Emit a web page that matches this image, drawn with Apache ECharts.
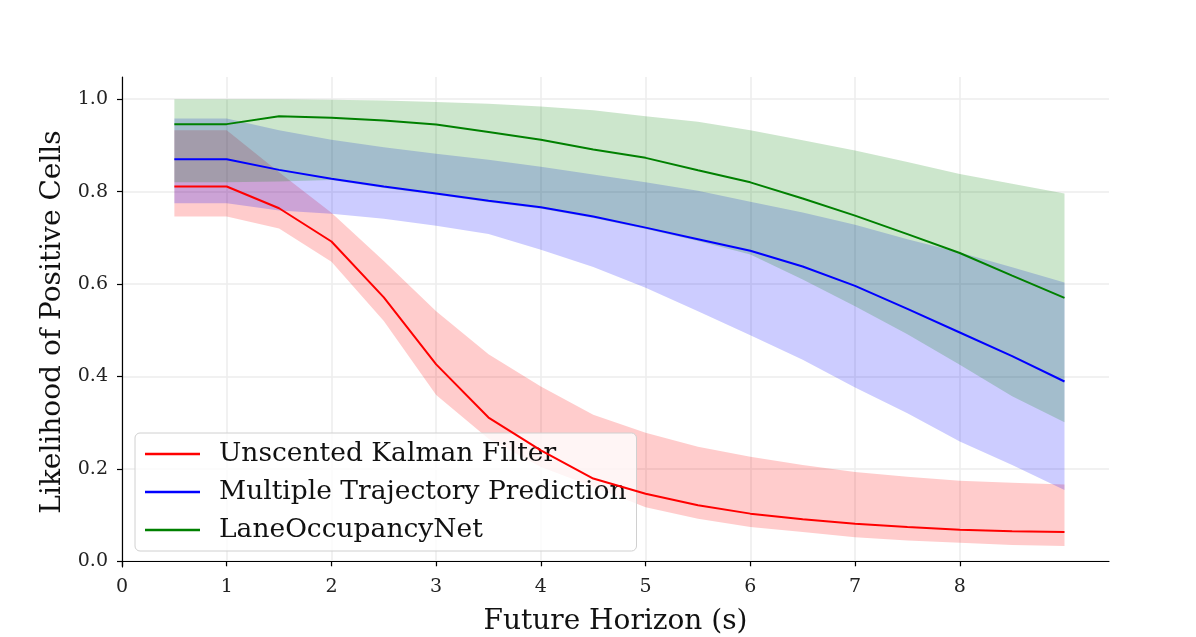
<!DOCTYPE html>
<html>
<head>
<meta charset="utf-8">
<script src="https://cdn.jsdelivr.net/npm/echarts@6/dist/echarts.min.js"></script>
<style>
  html, body { margin: 0; padding: 0; background: #fff; }
  #chart { width: 1196px; height: 637px; }
</style>
</head>
<body>
<div id="chart"></div>
<script>
// future horizon (s)
var horizon = [0.5, 1, 1.5, 2, 2.5, 3, 3.5, 4, 4.5, 5, 5.5, 6, 6.5, 7, 7.5, 8, 8.5, 9];

// Unscented Kalman Filter
var ukfMean  = [0.811, 0.811, 0.764, 0.692, 0.571, 0.426, 0.311, 0.240, 0.179, 0.146, 0.121, 0.103, 0.091, 0.081, 0.074, 0.068, 0.065, 0.063];
var ukfUpper = [0.933, 0.933, 0.842, 0.754, 0.650, 0.541, 0.448, 0.378, 0.317, 0.278, 0.248, 0.226, 0.208, 0.193, 0.183, 0.174, 0.170, 0.166];
var ukfLower = [0.746, 0.746, 0.720, 0.648, 0.520, 0.360, 0.265, 0.204, 0.161, 0.117, 0.092, 0.074, 0.063, 0.052, 0.045, 0.040, 0.035, 0.033];

// Multiple Trajectory Prediction
var mtpMean  = [0.870, 0.870, 0.847, 0.828, 0.811, 0.796, 0.780, 0.766, 0.746, 0.722, 0.697, 0.672, 0.638, 0.596, 0.546, 0.495, 0.444, 0.389];
var mtpUpper = [0.958, 0.958, 0.933, 0.912, 0.896, 0.882, 0.869, 0.854, 0.837, 0.820, 0.802, 0.778, 0.755, 0.728, 0.697, 0.668, 0.636, 0.603];
var mtpLower = [0.775, 0.775, 0.759, 0.752, 0.741, 0.726, 0.708, 0.674, 0.637, 0.592, 0.541, 0.489, 0.436, 0.376, 0.320, 0.259, 0.208, 0.154];

// LaneOccupancyNet
var lonMean  = [0.946, 0.946, 0.963, 0.960, 0.954, 0.945, 0.929, 0.912, 0.891, 0.873, 0.846, 0.820, 0.785, 0.748, 0.708, 0.667, 0.618, 0.570];
var lonUpper = [1.000, 1.000, 1.000, 0.999, 0.997, 0.994, 0.990, 0.984, 0.976, 0.963, 0.951, 0.933, 0.911, 0.889, 0.864, 0.838, 0.817, 0.796];
var lonLower = [0.820, 0.820, 0.822, 0.825, 0.808, 0.793, 0.777, 0.763, 0.743, 0.719, 0.693, 0.664, 0.610, 0.552, 0.491, 0.425, 0.357, 0.301];

var xTicks = [0, 1, 2, 3, 4, 5, 6, 7, 8];
var yTicks = [0, 0.2, 0.4, 0.6, 0.8, 1.0];

var FONT = '"DejaVu Serif", serif';

var pairs = function(ys) {
    return horizon.map(function(x, i) { return [x, ys[i]]; });
};

// fill_between-like band: one polygon through upper points then lower points back
var band = function(key, lo, hi, color) {
    var data = horizon.map(function(x, i) { return [x, lo[i], hi[i]]; });
    return {
        name: key + '_band', type: 'custom', silent: true, z: 1,
        data: data,
        encode: { x: 0, y: [1, 2] },
        renderItem: function(params, api) {
            if (params.dataIndex !== 0) return null;
            var top = [], bot = [];
            for (var i = 0; i < data.length; i++) {
                top.push(api.coord([data[i][0], data[i][2]]));
                bot.push(api.coord([data[i][0], data[i][1]]));
            }
            return {
                type: 'polygon',
                shape: { points: top.concat(bot.reverse()) },
                style: { fill: color, opacity: 0.2 }
            };
        }
    };
};
var meanLine = function(name, ys, color) {
    return {
        name: name, type: 'line', data: pairs(ys), symbol: 'none', z: 5,
        lineStyle: { color: color, width: 2 }, itemStyle: { color: color }
    };
};

var series = [
    band('ukf', ukfLower, ukfUpper, '#ff0000'),
    band('mtp', mtpLower, mtpUpper, '#0000ff'),
    band('lon', lonLower, lonUpper, '#008000'),
    meanLine('Unscented Kalman Filter', ukfMean, '#ff0000'),
    meanLine('Multiple Trajectory Prediction', mtpMean, '#0000ff'),
    meanLine('LaneOccupancyNet', lonMean, '#008000')
];

var axisCommon = {
    axisLine: { show: true, lineStyle: { color: '#000', width: 1.2 } },
    axisTick: { show: true, inside: false, length: 5, lineStyle: { color: '#000', width: 1.2 } },
    axisLabel: { color: '#222', fontFamily: FONT, fontSize: 19 },
    splitLine: { show: true, lineStyle: { color: '#ececec', width: 1.5 } },
    nameLocation: 'middle',
    nameTextStyle: { color: '#111', fontFamily: FONT, fontSize: 28 }
};

var chart = echarts.init(document.getElementById('chart'));
chart.setOption({
    backgroundColor: '#fff',
    animation: false,
    grid: { left: 122, right: 87, top: 77, bottom: 70, outerBoundsMode: 'none', containLabel: false },
    xAxis: Object.assign({}, axisCommon, {
        type: 'value', min: 0, max: 9.425,
        name: 'Future Horizon (s)', nameGap: 41,
        axisTick: Object.assign({}, axisCommon.axisTick, { customValues: xTicks }),
        axisLabel: Object.assign({}, axisCommon.axisLabel, { customValues: xTicks, margin: 11 })
    }),
    yAxis: Object.assign({}, axisCommon, {
        type: 'value', min: -0.0125, max: 1.048,
        name: 'Likelihood of Positive Cells', nameGap: 52,
        axisTick: Object.assign({}, axisCommon.axisTick, { customValues: yTicks }),
        axisLabel: Object.assign({}, axisCommon.axisLabel, {
            customValues: yTicks, margin: 14,
            formatter: function(v) { return v.toFixed(1); }
        })
    }),
    legend: {
        data: ['Unscented Kalman Filter', 'Multiple Trajectory Prediction', 'LaneOccupancyNet'],
        orient: 'vertical', left: 135, top: 433,
        icon: 'rect', itemWidth: 55, itemHeight: 2.5, itemGap: 10,
        padding: [7, 10, 7, 10],
        backgroundColor: 'rgba(255,255,255,0.8)',
        borderColor: '#d0d0d0', borderWidth: 1, borderRadius: 5,
        textStyle: { color: '#111', fontFamily: FONT, fontSize: 26.5, lineHeight: 28, padding: [0, 0, 0, 14] }
    },
    series: series
});
</script>
</body>
</html>
